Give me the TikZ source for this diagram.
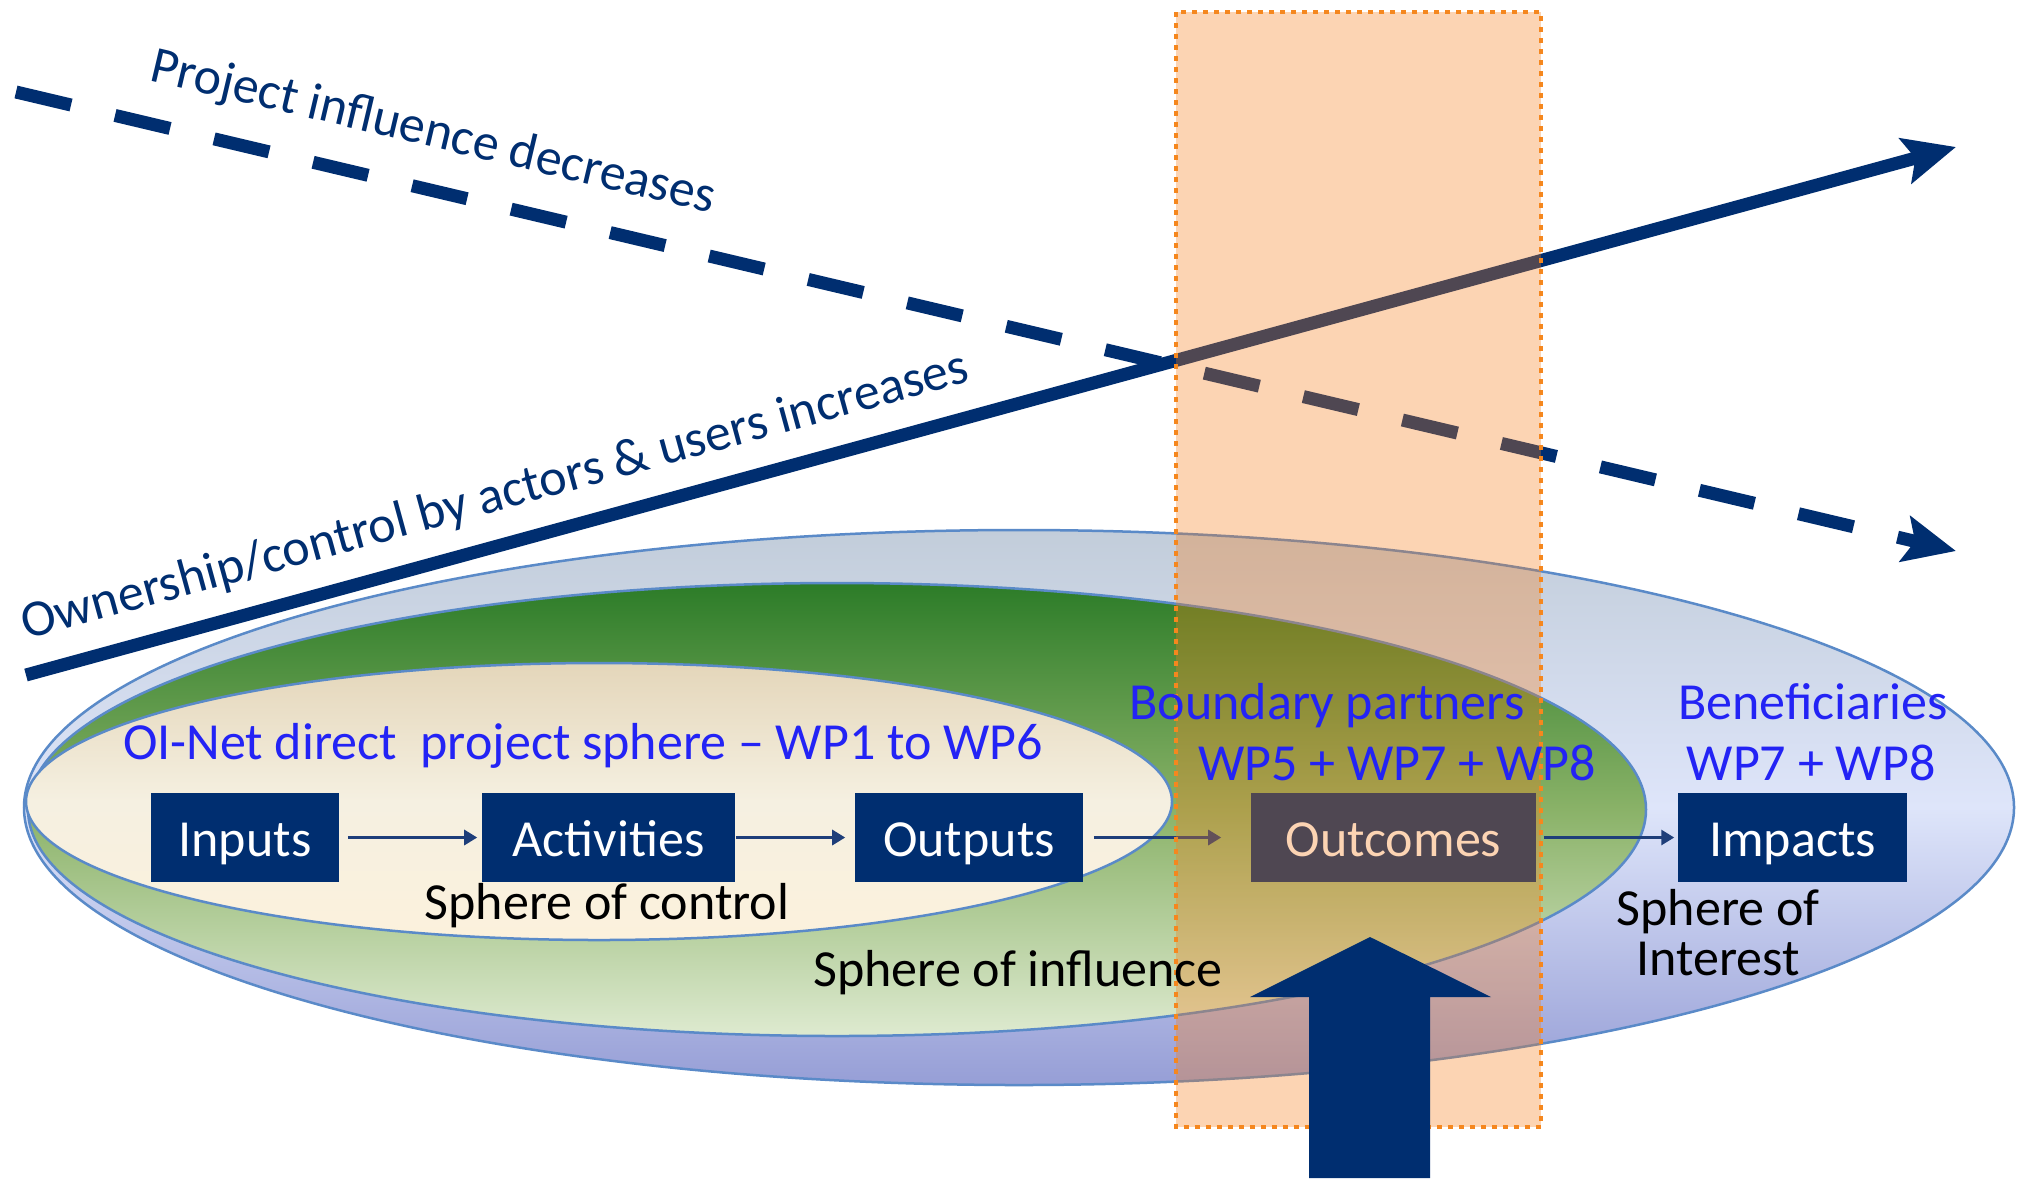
\documentclass[tikz,border=0pt]{standalone}
\usepackage{fontspec}
\setmainfont{Carlito}
\usetikzlibrary{arrows.meta}
\definecolor{navy}{RGB}{0,46,112}
\definecolor{lblue}{RGB}{35,35,245}
\definecolor{rim}{RGB}{90,138,200}
\definecolor{connc}{RGB}{30,62,122}
\definecolor{ovl}{RGB}{247,124,21}
\definecolor{dotc}{RGB}{245,135,30}
\definecolor{oTop}{RGB}{194,205,218}
\definecolor{oMid}{RGB}{222,229,250}
\definecolor{oBot}{RGB}{150,158,214}
\definecolor{gTop}{RGB}{44,124,40}
\definecolor{gMid}{RGB}{138,178,104}
\definecolor{gBot}{RGB}{222,234,208}
\definecolor{iTop}{RGB}{228,214,186}
\definecolor{iMid}{RGB}{245,240,225}
\definecolor{iBot}{RGB}{252,241,220}
\begin{document}
\begin{tikzpicture}[x=0.01cm, y=-0.01cm,
  lab/.style={font=\fontsize{14.8}{14.2}\selectfont, inner sep=0pt},
  bluelab/.style={lab, text=lblue},
  blacklab/.style={lab, text=black},
  box/.style={lab, fill=navy, text=white, minimum height=0.89cm, text height=13pt, text depth=2.4pt},
  conn/.style={draw=connc, line width=0.03cm, -{Triangle[length=0.13cm,width=0.15cm]}},
  bigline/.style={draw=navy, line width=0.13cm, -{Stealth[length=0.52cm,width=0.46cm,inset=0.1cm]}},
  rimline/.style={draw=rim, line width=0.025cm}
]
\useasboundingbox[fill=white] (0,0) rectangle (2022,1178);

% spheres
\path[rimline, top color=oTop, bottom color=oBot, middle color=oMid] (1019,807.5) ellipse [x radius=995, y radius=277.5];
\path[rimline, top color=gTop, bottom color=gBot, middle color=gMid] (837,809.5) ellipse [x radius=809, y radius=226.5];
\path[rimline, top color=iTop, bottom color=iBot, middle color=iMid] (599,801.5) ellipse [x radius=573, y radius=138.5];

% chain of boxes
\node[box, minimum width=1.88cm] (inputs) at (245,837.5) {Inputs};
\node[box, minimum width=2.53cm] (activities) at (608.5,837.5) {Activities};
\node[box, minimum width=2.28cm] (outputs) at (969,837.5) {Outputs};
\node[box, minimum width=2.85cm] (outcomes) at (1393.5,837.5) {Outcomes};
\node[box, minimum width=2.29cm] (impacts) at (1792.5,837.5) {Impacts};

\draw[conn, shorten <=0.08cm, shorten >=0.04cm] (inputs) -- (activities);
\draw[conn, shorten >=0.09cm] (activities) -- (outputs);
\draw[conn, shorten <=0.1cm, shorten >=0.29cm] (outputs) -- (outcomes);
\draw[conn, shorten <=0.07cm, shorten >=0.03cm] (outcomes) -- (impacts);

% trend lines
\coordinate (ds) at (16,92);
\coordinate (de) at (1956,551);
\coordinate (ss) at (26,675);
\coordinate (se) at (1956,147);
\draw[bigline, dash pattern=on 0.565cm off 0.452cm] (ds) -- (de);
\draw[bigline] (ss) -- (se);

% outcome band
\fill[ovl, fill opacity=0.32] (1176,12) rectangle (1541,1127);
\draw[dotc, line width=0.045cm, dash pattern=on 0.05cm off 0.06cm] (1176,12) rectangle (1541,1127);

% big arrow
\fill[navy] (1309,1178) -- (1309,997) -- (1250,997) -- (1370,937) -- (1491,997) -- (1430,997) -- (1430,1178) -- cycle;

% labels
\node[lab, text=navy, anchor=base west, rotate=-13.3] (tproj) at (148,80) {Project influence decreases};
\node[lab, text=navy, anchor=base west, rotate=15.3] (town) at (26,640) {Ownership/control by actors \& users increases};

\node[bluelab, anchor=base] (toinet) at (583,759) {OI-Net direct\ \ project sphere – WP1 to WP6};
\node[bluelab, anchor=base] (tbp) at (1327,719) {Boundary partners};
\node[bluelab, anchor=base] (twp578) at (1397,780) {WP5 + WP7 + WP8};
\node[bluelab, anchor=base] (tben) at (1813,719) {Beneficiaries};
\node[bluelab, anchor=base] (twp78) at (1811,780) {WP7 + WP8};

\node[blacklab, anchor=base] (tctrl) at (607,919) {Sphere of control};
\node[blacklab, anchor=base] (tinfl) at (1018,986) {Sphere of influence};
\node[blacklab, align=center, anchor=base] (tint) at (1718,975) {Sphere of\\Interest};
\end{tikzpicture}
\end{document}
